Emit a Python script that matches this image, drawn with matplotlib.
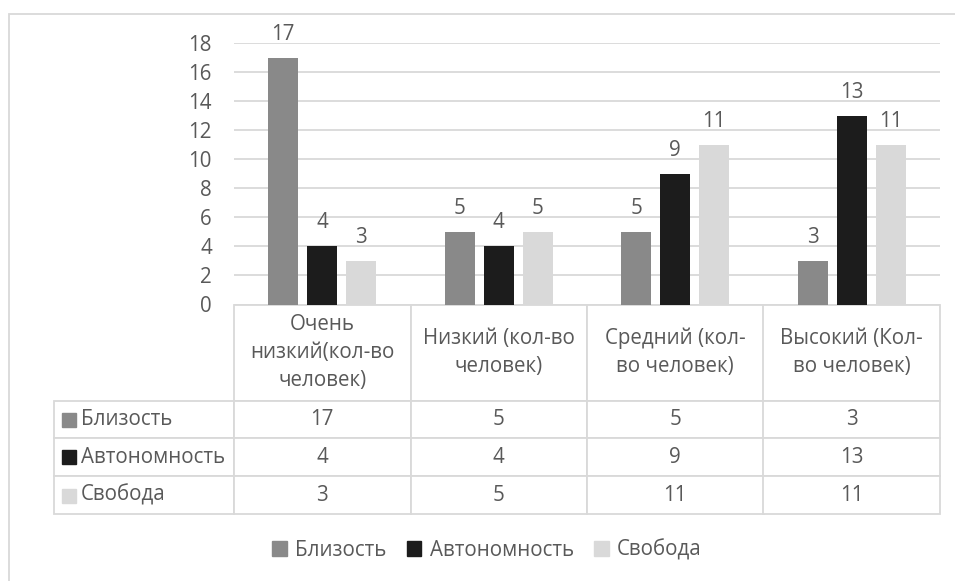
import matplotlib.pyplot as plt
from matplotlib.patches import Rectangle
import numpy as np

# --- ДАННЫЕ ---
categories = ['Очень\nнизкий(кол-во\nчеловек)', 'Низкий (кол-во\nчеловек)',
              'Средний (кол-\nво человек)', 'Высокий (Кол-\nво человек)']
series_names = ['Близость', 'Автономность', 'Свобода']
blizost = [17, 5, 5, 3]
avtonomnost = [4, 4, 9, 13]
svoboda = [3, 5, 11, 11]
yticks = [0, 2, 4, 6, 8, 10, 12, 14, 16, 18]

# --- СТИЛЬ ---
COLORS = ['#898989', '#1c1c1c', '#d9d9d9']
TXT = '#595959'
LINE = '#d9d9d9'
FS = 14.8
plt.rcParams['font.family'] = ['Open Sans', 'DejaVu Sans']

W, H = 955, 581
fig = plt.figure(figsize=(W / 100, H / 100), dpi=100)

# внешняя рамка (обрезана справа и снизу)
fig.patches.append(Rectangle((9 / W, -0.1), 1.1, 1.1 - 14 / H,
                             transform=fig.transFigure, fill=False,
                             edgecolor=LINE, lw=1.3))

left, right = 234 / W, 940 / W
bottom, top = 1 - 304.5 / H, 1 - 43.3 / H
ax = fig.add_axes([left, bottom, right - left, top - bottom])

values = [blizost, avtonomnost, svoboda]
x = np.arange(len(categories))
bw = 30 / 176.5
step = 39 / 176.5
for i, (vals, col, name) in enumerate(zip(values, COLORS, series_names)):
    bars = ax.bar(x + (i - 1) * step, vals, width=bw, color=col, label=name, zorder=3)
    for b, v in zip(bars, vals):
        ax.annotate(str(v), (b.get_x() + b.get_width() / 2, v),
                    xytext=(0, 13), textcoords='offset points',
                    ha='center', va='baseline', fontsize=FS, color=TXT)

ax.set_xlim(-0.5, len(categories) - 0.5)
ax.set_ylim(0, 18)
ax.set_yticks(yticks)
ax.tick_params(axis='y', length=0, pad=16, labelsize=FS, labelcolor=TXT)
ax.set_xticks([])
ax.grid(axis='y', color=LINE, lw=1.3, zorder=0)
for s in ax.spines.values():
    s.set_visible(False)

# --- ТАБЛИЦА ДАННЫХ ---
cell_text = [[n] + [str(v) for v in vals] for n, vals in zip(series_names, values)]
ax_h = 304.5 - 43.3
ax_w = 940 - 234
tbl_h = (514 - 304.5) / ax_h
x0 = (54 - 234) / ax_w
tbl = ax.table(cellText=cell_text, colLabels=[''] + categories,
               cellLoc='center', bbox=[x0, -tbl_h, 1 - x0, tbl_h])
tbl.auto_set_font_size(False)
head_h, row_h = 96, 37.8
for (r, c), cell in tbl.get_celld().items():
    cell.set_edgecolor(LINE)
    cell.set_linewidth(1.3)
    cell.get_text().set_color(TXT)
    cell.get_text().set_fontsize(FS)
    cell.set_height(head_h if r == 0 else row_h)
    cell.set_width(180 if c == 0 else 176.5)
    if r == 0:
        cell.get_text().set_linespacing(1.45)
    if c == 0:
        cell.get_text().set_horizontalalignment('left')
        cell._loc = 'left'
        cell.PAD = 0.15
        if r == 0:
            cell.visible_edges = ''

# цветные квадраты у подписей строк
row_y = [419.5, 457.5, 495.5]
for yy, col in zip(row_y, COLORS):
    ax.plot([(69 - 234) / ax_w], [(304.5 - yy) / ax_h], marker='s', ms=10,
            color=col, transform=ax.transAxes, clip_on=False, zorder=5)

# --- ЛЕГЕНДА ---
handles = [Rectangle((0, 0), 1, 1, color=c) for c in COLORS]
fig.legend(handles, series_names, loc='center', bbox_to_anchor=(487 / W, 1 - 550 / H),
           ncol=3, frameon=False, fontsize=FS, labelcolor=TXT,
           handlelength=0.7, handleheight=0.7, handletextpad=0.4, columnspacing=1.0)

fig.savefig('out.png', dpi=100)
